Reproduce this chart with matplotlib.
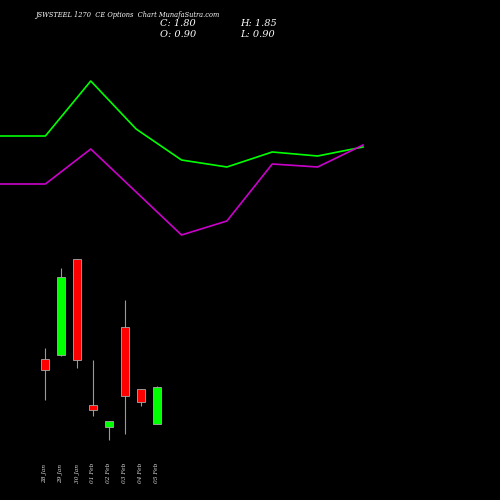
import matplotlib
matplotlib.use("Agg")
import matplotlib.pyplot as plt

dates = ["28 Jan","29 Jan","30 Jan","01 Feb","02 Feb","03 Feb","04 Feb","05 Feb"]
opens  = [1.41, 1.45, 2.41, 0.95, 0.73, 1.73, 1.11, 0.76]
closes = [1.30, 2.23, 1.40, 0.90, 0.79, 1.04, 0.98, 1.13]
highs  = [1.52, 2.32, 2.41, 1.40, 0.79, 2.00, 1.11, 1.14]
lows   = [1.00, 1.44, 1.32, 0.84, 0.60, 0.66, 0.94, 0.76]
green_line = [3.64, 3.64, 4.19, 3.71, 3.40, 3.33, 3.48, 3.44, 3.53]
magenta_line = [3.16, 3.16, 3.51, 3.08, 2.65, 2.79, 3.36, 3.33, 3.55]

fig = plt.figure(figsize=(5, 5), dpi=100, facecolor="black")
ax = fig.add_axes([0, 0, 1, 1])
ax.set_facecolor("black")
ax.set_ylim(0, 5)
ax.axis("off")

lx = fig.add_axes([0, 0, 1, 1], sharey=ax)
lx.set_facecolor("none"); lx.axis("off")
lx.set_xlim(0, 8 * 500 / 363)
lx.plot(range(len(green_line)), green_line, color="#00ff00", lw=1.2)
lx.plot(range(len(magenta_line)), magenta_line, color="#cc00cc", lw=1.2)

ax.set_xlim(-45 / 16, 455 / 16)
for i, (o, c, h, l) in enumerate(zip(opens, closes, highs, lows)):
    col = "#00ff00" if c >= o else "#ff0000"
    ax.vlines(i, l, h, color="#999999", lw=0.8, zorder=1)
    ax.bar(i, abs(c - o), bottom=min(o, c), width=0.55, color=col,
           edgecolor="#aaaaaa", lw=0.6, zorder=2)
    ax.text(i, 0.17, dates[i], rotation=90, color="#dddddd", fontsize=4.2,
            ha="center", va="bottom", family="DejaVu Serif", style="italic")

fig.text(0.07, 0.978, "JSWSTEEL 1270  CE Options  Chart MunafaSutra.com", color="white",
         fontsize=4.8, family="DejaVu Serif", style="italic", va="top")
fig.text(0.32, 0.962, "C: 1.80", color="white", fontsize=7, family="DejaVu Serif", style="italic", va="top")
fig.text(0.32, 0.94, "O: 0.90", color="white", fontsize=7, family="DejaVu Serif", style="italic", va="top")
fig.text(0.48, 0.962, "H: 1.85", color="white", fontsize=7, family="DejaVu Serif", style="italic", va="top")
fig.text(0.48, 0.94, "L: 0.90", color="white", fontsize=7, family="DejaVu Serif", style="italic", va="top")
fig.savefig("out.png", dpi=100, facecolor="black")
